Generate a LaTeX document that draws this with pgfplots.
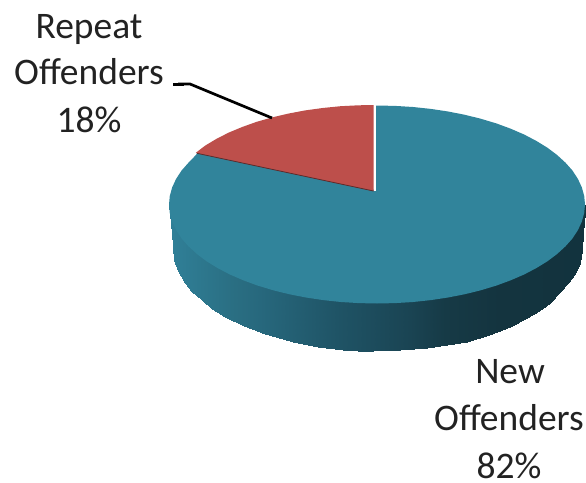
\documentclass[border=0pt]{standalone}
\usepackage{pgfplots}
\pgfplotsset{compat=1.18}
\usepackage{fontspec}
\setmainfont{Carlito}
\definecolor{newtop}{HTML}{31849B}
\definecolor{repeattop}{HTML}{BD4F4B}
\definecolor{repeatedge}{HTML}{5E2A2A}
\definecolor{labeltext}{HTML}{222222}
% Side wall of the pie: lighter at the left, darkest towards the right
\pgfplotsset{colormap={pieside}{
  rgb255(169)=(48,128,152) rgb255(235)=(42,110,130) rgb255(260)=(39,104,125)
  rgb255(340)=(31,83,101) rgb255(410)=(26,68,83) rgb255(445)=(22,58,70)
  rgb255(500)=(20,52,63) rgb255(585)=(18,51,62)}}
\tikzset{pielabel/.style={anchor=base, inner sep=0pt, text=labeltext,
  font=\fontsize{37.5}{45}\selectfont}}
\begin{document}
\begin{tikzpicture}
\begin{axis}[
  scale only axis, width=586pt, height=482pt,
  xmin=0, xmax=586, ymin=0, ymax=482,
  y dir=reverse, hide axis, clip=false,
  colormap name=pieside]

\path (axis cs:0,0) rectangle (axis cs:586,482);

% Side wall below the front rim, one upper and one lower row
\addplot[surf, shader=interp, mesh/rows=2, point meta=x,
         point meta min=169, point meta max=585] table {
169 204.5
174.3 204.5
178 204.5
185 204.5
192 204.5
201.7 204.5
212 204.5
225 204.5
244 204.5
265 204.5
279 204.5
293 204.5
318 204.5
343 204.5
358 204.5
373 204.5
400 204.5
427 204.5
447 204.5
467 204.5
489 204.5
510 204.5
526.7 204.5
539 204.5
550 204.5
560 204.5
568.3 204.5
575 204.5
580 204.5
582 204.5
583.3 204.5
585 204.5

171.7 233
174.3 260
178 271
185 283
192 291.5
201.7 300
212 308.5
225 316.7
244 326
265 333.5
279 338
293 341.7
318 346.5
343 350
358 350.8
373 351
400 350
427 348
447 345
467 341.7
489 335
510 326.7
526.7 318
539 310.5
550 303
560 292
568.3 283
575 274
580 263
582 250
583.3 233
585 212
};

% New Offenders, 82%
\addplot[draw=none, fill=newtop] coordinates {
  (376,191) (376,105.5) (395.1,105.9) (413.1,107) (430.8,108.9) (448.1,111.5)
  (464.9,114.8) (481,118.8) (496.3,123.4) (510.7,128.7) (524.1,134.5) (536.3,140.9)
  (547.4,147.7) (557.1,155) (565.5,162.7) (572.5,170.6) (577.9,178.9) (581.8,187.3)
  (584.2,195.9) (585,204.5) (584.2,213.1) (581.8,221.7) (577.9,230.1) (572.5,238.4)
  (565.5,246.3) (557.1,254) (547.4,261.3) (536.3,268.1) (524.1,274.5) (510.7,280.3)
  (496.3,285.6) (481,290.2) (464.9,294.2) (448.1,297.5) (430.8,300.1) (413.1,302)
  (395.1,303.1) (377,303.5) (358.9,303.1) (340.9,302) (323.2,300.1) (305.9,297.5)
  (289.1,294.2) (273,290.2) (257.7,285.6) (243.3,280.3) (229.9,274.5) (217.7,268.1)
  (206.6,261.3) (196.9,254) (188.5,246.3) (181.5,238.4) (176.1,230.1) (172.2,221.7)
  (169.8,213.1) (169,204.5) (169.8,195.9) (172.2,187.3) (176.1,178.9) (181.5,170.6)
  (188.5,162.7) (196.4,154.5) (197,152.5) (373.5,189.5) (373.5,191)};

% Repeat Offenders, 18%
\addplot[draw=none, fill=repeattop] coordinates {
  (373.5,191) (373.5,105) (358.5,105.3) (340.5,106.2) (322.7,108) (305.2,110.4)
  (288.3,113.6) (272.1,117.4) (256.7,121.8) (242.2,127) (228.7,132.6) (216.4,138.9)
  (205.2,145.6) (195.8,152.8)};
\addplot[repeatedge, line width=0.8pt] coordinates {(197,153.3) (373.5,191)};

% Leader from the label to its slice
\addplot[black, line width=2.7pt] coordinates {(178,84) (190,84) (272,118)};
\addplot[black, line width=3.4pt] coordinates {(173,84.3) (184,84.3)};

\node[pielabel] at (axis cs:89,38) {Repeat};
\node[pielabel] at (axis cs:89,84.5) {Offenders};
\node[pielabel] at (axis cs:89,132) {18\%};
\node[pielabel] at (axis cs:510,383) {New};
\node[pielabel] at (axis cs:509,430) {Offenders};
\node[pielabel] at (axis cs:509,478) {82\%};
\end{axis}
\end{tikzpicture}
\end{document}
